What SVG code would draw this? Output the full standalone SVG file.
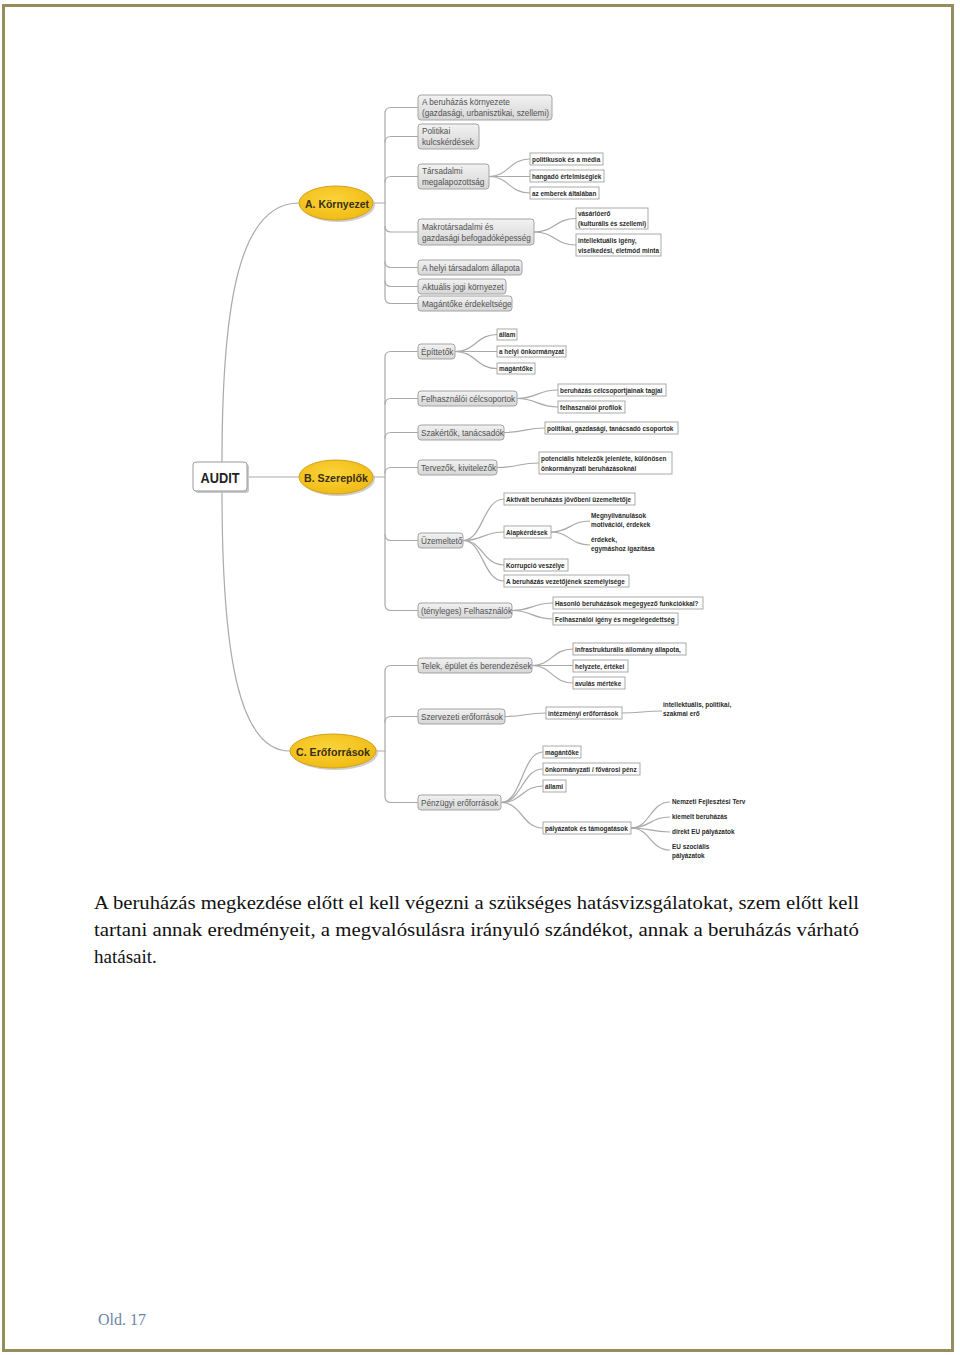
<svg xmlns="http://www.w3.org/2000/svg" width="960" height="1355" viewBox="0 0 960 1355">
<defs>
<linearGradient id="gbox" x1="0" y1="0" x2="0" y2="1">
<stop offset="0" stop-color="#f2f2f2"/><stop offset="1" stop-color="#d6d6d6"/>
</linearGradient>
<radialGradient id="gyel" cx="0.45" cy="0.4" r="0.7">
<stop offset="0" stop-color="#fbd43a"/><stop offset="1" stop-color="#efb70f"/>
</radialGradient>
</defs>
<style>
.frame{fill:none;stroke:#948e5f;stroke-width:3}
.c{fill:none;stroke:#a9a9a9;stroke-width:1.2}
.l2 rect{fill:url(#gbox);stroke:#a3a3a3;stroke-width:1}
.l2 text{font-family:"Liberation Sans",Arial,sans-serif;font-size:8.2px;fill:#505050}
.lf rect{fill:#fff;stroke:#a0a0a0;stroke-width:0.9}
.lf text,.tx{font-family:"Liberation Sans",Arial,sans-serif;font-size:6.4px;font-weight:bold;fill:#2a2a2a}
.main ellipse.e{fill:url(#gyel);stroke:#d0a21e;stroke-width:1}
.main ellipse.s{fill:#a8a8a8;opacity:0.55}
.main text{font-family:"Liberation Sans",Arial,sans-serif;font-size:11.5px;font-weight:bold;fill:#3a2f12;text-anchor:middle}
.para{font-family:"Liberation Serif","Times New Roman",serif;font-size:19px;fill:#111}
</style>
<rect width="960" height="1355" fill="#fff"/>
<rect class="frame" x="3.5" y="5.5" width="949" height="1345"/>

<g id="connectors">
<path class="c" d="M222,462 C222,300 240,203 299,203"/>
<path class="c" d="M247,477 H299"/>
<path class="c" d="M222,491 C222,660 240,751 290,751"/>
<path class="c" d="M374,203 H385 V113.5 Q385,107.5 391,107.5 H418"/>
<path class="c" d="M385,142.5 Q385,136.5 391,136.5 H418"/>
<path class="c" d="M385,182.5 Q385,176.5 391,176.5 H418"/>
<path class="c" d="M385,203 V297.5 Q385,303.5 391,303.5 H418"/>
<path class="c" d="M385,226 Q385,232 391,232 H418"/>
<path class="c" d="M385,261.5 Q385,267.5 391,267.5 H418"/>
<path class="c" d="M385,280.5 Q385,286.5 391,286.5 H418"/>
<path class="c" d="M374,477 H385 V357.5 Q385,351.5 391,351.5 H418"/>
<path class="c" d="M385,404.5 Q385,398.5 391,398.5 H418"/>
<path class="c" d="M385,438.5 Q385,432.5 391,432.5 H418"/>
<path class="c" d="M385,473.5 Q385,467.5 391,467.5 H418"/>
<path class="c" d="M385,477 V604.5 Q385,610.5 391,610.5 H418"/>
<path class="c" d="M385,534.5 Q385,540.5 391,540.5 H418"/>
<path class="c" d="M377,751 H385 V671.5 Q385,665.5 391,665.5 H418"/>
<path class="c" d="M385,722.5 Q385,716.5 391,716.5 H418"/>
<path class="c" d="M385,751 V796.5 Q385,802.5 391,802.5 H418"/>
<path class="c" d="M489,176.5 C509,176.5 509,159 530,159"/>
<path class="c" d="M489,176.5 H530"/>
<path class="c" d="M489,176.5 C509,176.5 509,193 530,193"/>
<path class="c" d="M534,232 C555,232 555,218.5 576,218.5"/>
<path class="c" d="M534,232 C555,232 555,245 576,245"/>
<path class="c" d="M455,351.5 C476,351.5 476,334.5 497,334.5"/>
<path class="c" d="M455,351.5 H497"/>
<path class="c" d="M455,351.5 C476,351.5 476,368.5 497,368.5"/>
<path class="c" d="M517,398.5 C537,398.5 537,390 558,390"/>
<path class="c" d="M517,398.5 C537,398.5 537,407 558,407"/>
<path class="c" d="M504,432.5 C525,432.5 525,428 545,428"/>
<path class="c" d="M497,467.5 C518,467.5 518,463 539,463"/>
<path class="c" d="M463,540.5 C483,540.5 483,499 504,499"/>
<path class="c" d="M463,540.5 C483,540.5 483,532 504,532"/>
<path class="c" d="M463,540.5 C483,540.5 483,565 504,565"/>
<path class="c" d="M463,540.5 C483,540.5 483,581 504,581"/>
<path class="c" d="M551,532 C570,532 570,521 590,521"/>
<path class="c" d="M551,532 C570,532 570,545 590,545"/>
<path class="c" d="M512,610.5 C532,610.5 532,603 553,603"/>
<path class="c" d="M512,610.5 C532,610.5 532,619 553,619"/>
<path class="c" d="M532,665.5 C552,665.5 552,649 573,649"/>
<path class="c" d="M532,665.5 H573"/>
<path class="c" d="M532,665.5 C552,665.5 552,683 573,683"/>
<path class="c" d="M505,716.5 C525,716.5 525,713 546,713"/>
<path class="c" d="M622,713 C642,713 642,711 662,711"/>
<path class="c" d="M501,802.5 C522,802.5 522,752 543,752"/>
<path class="c" d="M501,802.5 C522,802.5 522,769 543,769"/>
<path class="c" d="M501,802.5 C522,802.5 522,786 543,786"/>
<path class="c" d="M501,802.5 C522,802.5 522,828 543,828"/>
<path class="c" d="M631,828 C650,828 650,802 670,802"/>
<path class="c" d="M631,828 C650,828 650,817 670,817"/>
<path class="c" d="M631,828 C650,828 650,832 670,832"/>
<path class="c" d="M631,828 C650,828 650,850 670,850"/>
</g>

<g id="audit">
<rect x="195" y="464" width="54" height="29" rx="3" fill="#c8c8c8"/>
<rect x="193" y="462" width="54" height="29" rx="3" fill="#fff" stroke="#9a9a9a"/>
<text x="220" y="482.5" font-family="Liberation Sans,Arial,sans-serif" font-size="14" font-weight="bold" fill="#222" text-anchor="middle" textLength="39" lengthAdjust="spacingAndGlyphs">AUDIT</text>
</g>

<g id="nodeA" class="main"><ellipse class="s" cx="338" cy="205" rx="37" ry="17"/><ellipse class="e" cx="336" cy="203" rx="37" ry="17"/><text x="337" y="207.5" textLength="64" lengthAdjust="spacingAndGlyphs">A. Környezet</text></g>
<g id="nodeB" class="main"><ellipse class="s" cx="338" cy="479" rx="37" ry="17"/><ellipse class="e" cx="336" cy="477" rx="37" ry="17"/><text x="336" y="481.5" textLength="64" lengthAdjust="spacingAndGlyphs">B. Szereplők</text></g>
<g id="nodeC" class="main"><ellipse class="s" cx="335" cy="753" rx="43" ry="17"/><ellipse class="e" cx="333" cy="751" rx="43" ry="17"/><text x="333" y="755.5" textLength="74" lengthAdjust="spacingAndGlyphs">C. Erőforrások</text></g>

<g id="a1" class="l2"><rect x="418" y="95" width="134" height="25" rx="3"/><text x="422" y="105">A beruházás környezete</text><text x="422" y="116">(gazdasági, urbanisztikai, szellemi)</text></g>
<g id="a2" class="l2"><rect x="418" y="124" width="61" height="25" rx="3"/><text x="422" y="134">Politikai</text><text x="422" y="145">kulcskérdések</text></g>
<g id="a3" class="l2"><rect x="418" y="164" width="71" height="25" rx="3"/><text x="422" y="174">Társadalmi</text><text x="422" y="185">megalapozottság</text></g>
<g id="a4" class="l2"><rect x="418" y="219" width="116" height="26" rx="3"/><text x="422" y="229.5">Makrotársadalmi és</text><text x="422" y="240.5">gazdasági befogadóképesség</text></g>
<g id="a5" class="l2"><rect x="418" y="260" width="104" height="15" rx="3"/><text x="422" y="270.5">A helyi társadalom állapota</text></g>
<g id="a6" class="l2"><rect x="418" y="279" width="88" height="15" rx="3"/><text x="422" y="289.5">Aktuális jogi környezet</text></g>
<g id="a7" class="l2"><rect x="418" y="296" width="94" height="15" rx="3"/><text x="422" y="306.5">Magántőke érdekeltsége</text></g>

<g id="b1" class="l2"><rect x="418" y="344" width="37" height="15" rx="3"/><text x="421" y="354.5">Építtetők</text></g>
<g id="b2" class="l2"><rect x="418" y="391" width="99" height="15" rx="3"/><text x="421" y="401.5">Felhasználói célcsoportok</text></g>
<g id="b3" class="l2"><rect x="418" y="425" width="86" height="15" rx="3"/><text x="421" y="435.5">Szakértők, tanácsadók</text></g>
<g id="b4" class="l2"><rect x="418" y="460" width="79" height="15" rx="3"/><text x="421" y="470.5">Tervezők, kivitelezők</text></g>
<g id="b5" class="l2"><rect x="418" y="533" width="45" height="15" rx="3"/><text x="421" y="543.5">Üzemeltető</text></g>
<g id="b6" class="l2"><rect x="418" y="603" width="94" height="15" rx="3"/><text x="421" y="613.5">(tényleges) Felhasználók</text></g>

<g id="c1" class="l2"><rect x="418" y="658" width="114" height="15" rx="3"/><text x="421" y="668.5">Telek, épület és berendezések</text></g>
<g id="c2" class="l2"><rect x="418" y="709" width="87" height="15" rx="3"/><text x="421" y="719.5">Szervezeti erőforrások</text></g>
<g id="c3" class="l2"><rect x="418" y="795" width="83" height="15" rx="3"/><text x="421" y="805.5">Pénzügyi erőforrások</text></g>

<g id="a3l1" class="lf"><rect x="530" y="153" width="73" height="12"/><text x="532" y="161.5">politikusok és a média</text></g>
<g id="a3l2" class="lf"><rect x="530" y="170" width="74" height="12"/><text x="532" y="178.5">hangadó értelmiségiek</text></g>
<g id="a3l3" class="lf"><rect x="530" y="187" width="69" height="12"/><text x="532" y="195.5">az emberek általában</text></g>
<g id="a4l1" class="lf"><rect x="576" y="208" width="72" height="21"/><text x="578" y="216">vásárlóerő</text><text x="578" y="225.5">(kulturális és szellemi)</text></g>
<g id="a4l2" class="lf"><rect x="576" y="234" width="85" height="22"/><text x="578" y="243">intellektuális igény,</text><text x="578" y="252.5">viselkedési, életmód minta</text></g>

<g id="b1l1" class="lf"><rect x="497" y="329" width="20" height="11"/><text x="499" y="337">állam</text></g>
<g id="b1l2" class="lf"><rect x="497" y="346" width="69" height="11"/><text x="499" y="354">a helyi önkormányzat</text></g>
<g id="b1l3" class="lf"><rect x="497" y="363" width="38" height="11"/><text x="499" y="371">magántőke</text></g>
<g id="b2l1" class="lf"><rect x="558" y="384" width="108" height="12"/><text x="560" y="392.5">beruházás célcsoportjainak tagjai</text></g>
<g id="b2l2" class="lf"><rect x="558" y="401" width="67" height="12"/><text x="560" y="409.5">felhasználói profilok</text></g>
<g id="b3l1" class="lf"><rect x="545" y="422" width="133" height="12"/><text x="547" y="430.5">politikai, gazdasági, tanácsadó csoportok</text></g>
<g id="b4l1" class="lf"><rect x="539" y="452" width="133" height="22"/><text x="541" y="461">potenciális hitelezők jelenléte, különösen</text><text x="541" y="470.5">önkormányzati beruházásoknál</text></g>
<g id="b5l1" class="lf"><rect x="504" y="493" width="131" height="12"/><text x="506" y="501.5">Aktivált beruházás jövőbeni üzemeltetője</text></g>
<g id="b5l2" class="lf"><rect x="504" y="526" width="47" height="12"/><text x="506" y="534.5">Alapkérdések</text></g>
<g id="b5l2a"><text class="tx" x="591" y="518">Megnyilvánulások</text><text class="tx" x="591" y="527">motivációi, érdekek</text></g>
<g id="b5l2b"><text class="tx" x="591" y="542">érdekek,</text><text class="tx" x="591" y="551">egymáshoz igazítása</text></g>
<g id="b5l3" class="lf"><rect x="504" y="559" width="64" height="12"/><text x="506" y="567.5">Korrupció veszélye</text></g>
<g id="b5l4" class="lf"><rect x="504" y="575" width="125" height="12"/><text x="506" y="583.5">A beruházás vezetőjének személyisége</text></g>
<g id="b6l1" class="lf"><rect x="553" y="597" width="150" height="12"/><text x="555" y="605.5">Hasonló beruházások megegyező funkciókkal?</text></g>
<g id="b6l2" class="lf"><rect x="553" y="613" width="125" height="12"/><text x="555" y="621.5">Felhasználói igény és megelégedettség</text></g>

<g id="c1l1" class="lf"><rect x="573" y="643" width="113" height="12"/><text x="575" y="651.5">infrastrukturális állomány állapota,</text></g>
<g id="c1l2" class="lf"><rect x="573" y="660" width="55" height="12"/><text x="575" y="668.5">helyzete, értékei</text></g>
<g id="c1l3" class="lf"><rect x="573" y="677" width="52" height="12"/><text x="575" y="685.5">avulás mértéke</text></g>
<g id="c2l1" class="lf"><rect x="546" y="707" width="76" height="12"/><text x="548" y="715.5">intézményi erőforrások</text></g>
<g id="c2l1a"><text class="tx" x="663" y="707">intellektuális, politikai,</text><text class="tx" x="663" y="716">szakmai erő</text></g>
<g id="c3l1" class="lf"><rect x="543" y="746" width="38" height="12"/><text x="545" y="754.5">magántőke</text></g>
<g id="c3l2" class="lf"><rect x="543" y="763" width="97" height="12"/><text x="545" y="771.5">önkormányzati / fővárosi pénz</text></g>
<g id="c3l3" class="lf"><rect x="543" y="780" width="23" height="12"/><text x="545" y="788.5">állami</text></g>
<g id="c3l4" class="lf"><rect x="543" y="822" width="88" height="12"/><text x="545" y="830.5">pályázatok és támogatások</text></g>
<g id="c3l4a"><text class="tx" x="672" y="804">Nemzeti Fejlesztési Terv</text></g>
<g id="c3l4b"><text class="tx" x="672" y="819">kiemelt beruházás</text></g>
<g id="c3l4c"><text class="tx" x="672" y="834">direkt EU pályázatok</text></g>
<g id="c3l4d"><text class="tx" x="672" y="849">EU szociális</text><text class="tx" x="672" y="858">pályázatok</text></g>

<g id="paragraph">
<text class="para" x="94" y="909" textLength="765" lengthAdjust="spacingAndGlyphs">A beruházás megkezdése előtt el kell végezni a szükséges hatásvizsgálatokat, szem előtt kell</text>
<text class="para" x="94" y="936" textLength="765" lengthAdjust="spacingAndGlyphs">tartani annak eredményeit, a megvalósulásra irányuló szándékot, annak a beruházás várható</text>
<text class="para" x="94" y="963">hatásait.</text>
</g>
<text x="98" y="1325" font-family="Liberation Serif,serif" font-size="16" fill="#6c84a6">Old. 17</text>
</svg>
